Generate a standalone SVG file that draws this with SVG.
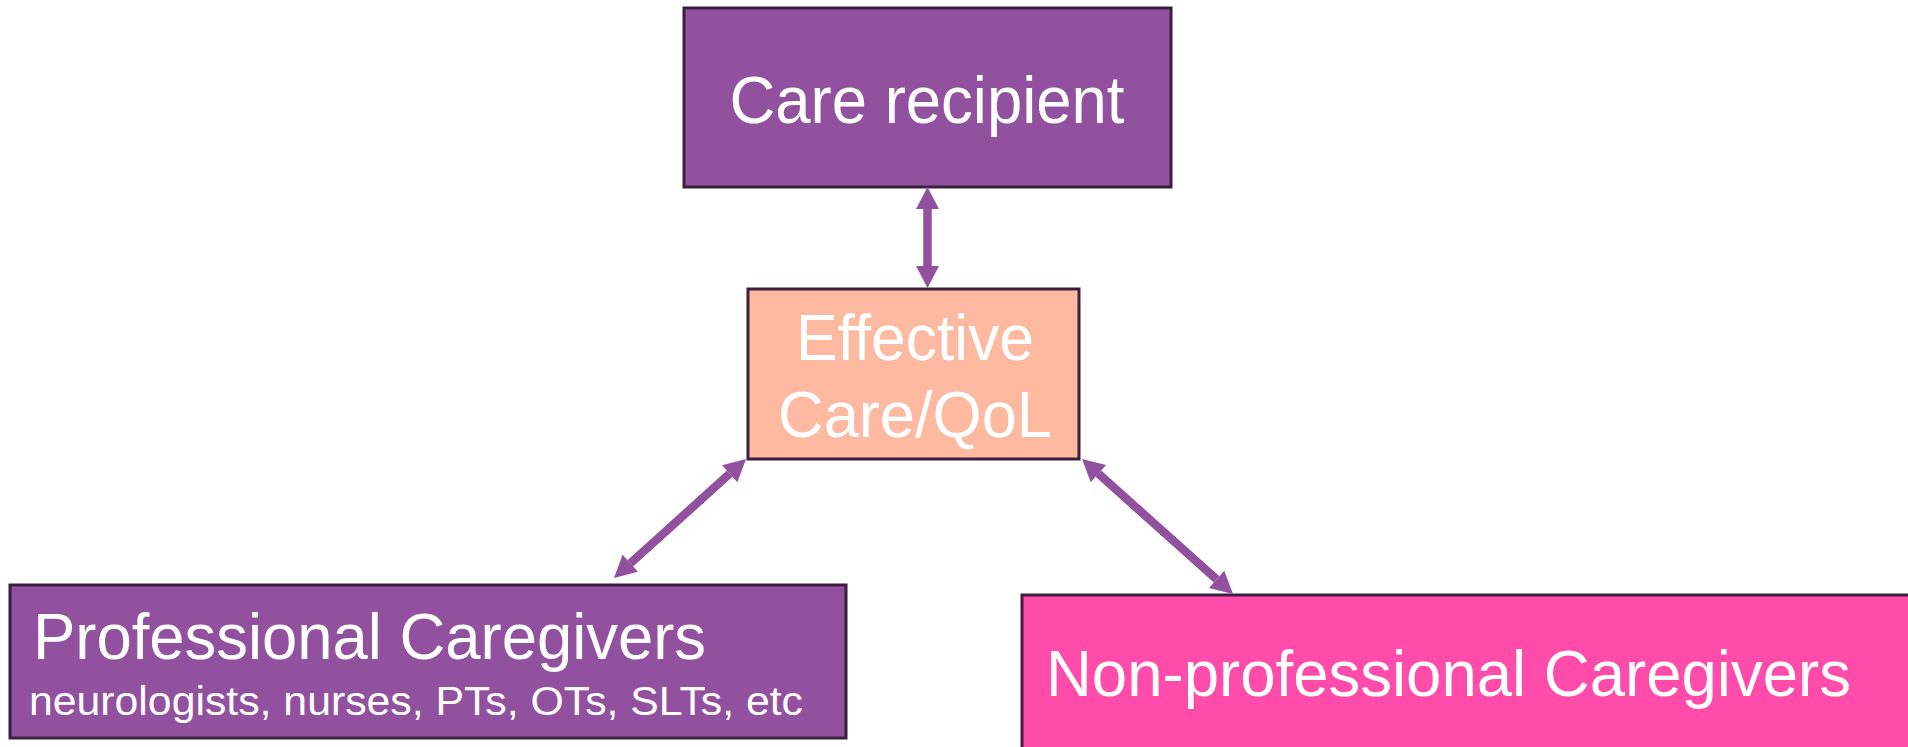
<svg xmlns="http://www.w3.org/2000/svg" width="1908" height="747" viewBox="0 0 1908 747">
<style>
.box{stroke:#3c1f40;stroke-width:3}
.purple{fill:#92519e}
.peach{fill:#fdbaa1}
.pink{fill:#ff4baa}
.t{fill:#ffffff;font-family:"Liberation Sans",Arial,sans-serif}
.conn{stroke:#92519e;stroke-width:8.5;fill:none}
</style>
<defs>
<marker id="head" markerUnits="userSpaceOnUse" markerWidth="23" markerHeight="24" refX="0" refY="11.5" orient="auto-start-reverse" viewBox="0 0 23 24" overflow="visible">
<path d="M0,0 L22,11.5 L0,23 Z" fill="#92519e"/>
</marker>
</defs>
<rect width="1908" height="747" fill="#ffffff"/>
<g id="care-recipient">
<rect class="box purple" x="684" y="8" width="487" height="179"/>
<text class="t" x="927" y="123" font-size="67" text-anchor="middle" textLength="395" lengthAdjust="spacingAndGlyphs">Care recipient</text>
</g>
<g id="effective-care">
<rect class="box peach" x="748" y="289" width="331" height="170"/>
<text class="t" x="915" y="360" font-size="65" text-anchor="middle" textLength="238" lengthAdjust="spacingAndGlyphs">Effective</text>
<text class="t" x="915" y="437" font-size="65" text-anchor="middle" textLength="274" lengthAdjust="spacingAndGlyphs">Care/QoL</text>
</g>
<g id="professional-caregivers">
<rect class="box purple" x="10" y="585" width="836" height="153"/>
<text class="t" x="33" y="659" font-size="65" textLength="673" lengthAdjust="spacingAndGlyphs">Professional Caregivers</text>
<text class="t" x="29" y="715" font-size="40" textLength="774" lengthAdjust="spacingAndGlyphs">neurologists, nurses, PTs, OTs, SLTs, etc</text>
</g>
<g id="non-professional-caregivers">
<rect class="box pink" x="1022" y="595" width="900" height="170"/>
<text class="t" x="1046" y="696" font-size="65" textLength="805" lengthAdjust="spacingAndGlyphs">Non-professional Caregivers</text>
</g>
<g id="connectors">
<path class="conn" d="M927.5,209 L927.5,266" marker-start="url(#head)" marker-end="url(#head)"/>
<path class="conn" d="M729.7,473.7 L630.3,563.3" marker-start="url(#head)" marker-end="url(#head)"/>
<path class="conn" d="M1098.4,473.7 L1216.6,579.3" marker-start="url(#head)" marker-end="url(#head)"/>
</g>
</svg>
